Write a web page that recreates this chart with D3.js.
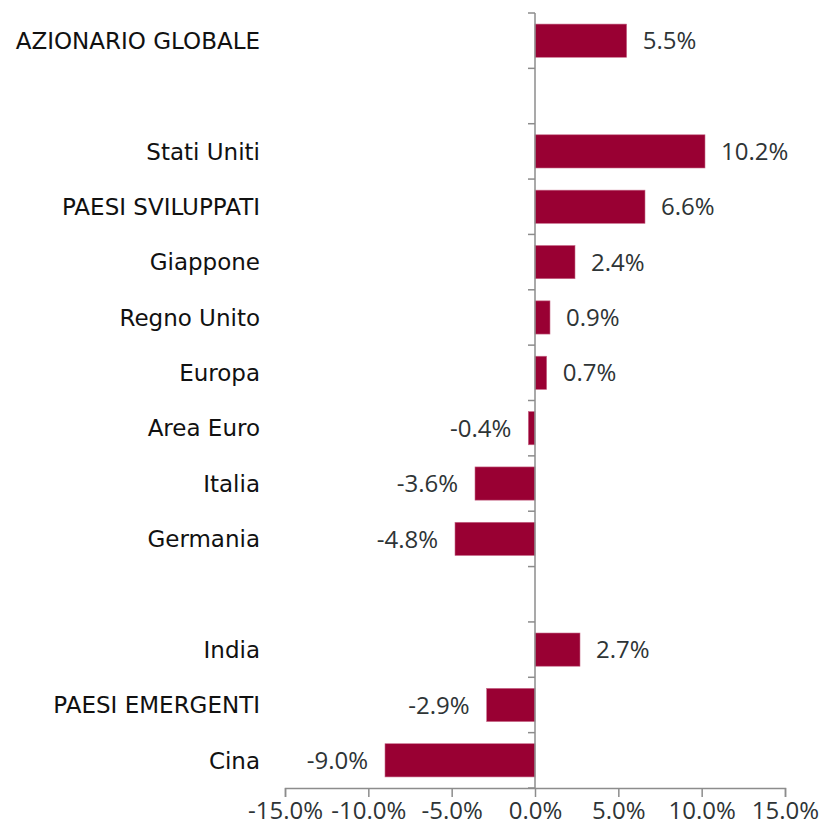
<!DOCTYPE html>
<html>
<head>
<meta charset="utf-8">
<script src="https://cdn.jsdelivr.net/npm/d3@7"></script>
<style>
  body { margin: 0; background: #fff; }
  text { font-family: "Open Sans", sans-serif; }
</style>
</head>
<body>
<div id="wrapper"></div>
<script>
// rows top to bottom, "" = empty spacer row
const categories = ["AZIONARIO GLOBALE", "", "Stati Uniti", "PAESI SVILUPPATI", "Giappone",
  "Regno Unito", "Europa", "Area Euro", "Italia", "Germania", "", "India", "PAESI EMERGENTI", "Cina"]
const values = [5.5, null, 10.2, 6.6, 2.4, 0.9, 0.7, -0.4, -3.6, -4.8, null, 2.7, -2.9, -9.0]
const xTicks = [-15, -10, -5, 0, 5, 10, 15]

// hyphen instead of unicode minus, like the original
const pct = v => d3.format(".1f")(v).replace("\u2212", "-") + "%"

function drawBarChart() {
  let dimensions = {
    width: 823,
    height: 832,
    margin: { top: 13, right: 38, bottom: 44, left: 285 }
  }
  dimensions.boundedWidth = dimensions.width - dimensions.margin.left - dimensions.margin.right
  dimensions.boundedHeight = dimensions.height - dimensions.margin.top - dimensions.margin.bottom

  const wrapper = d3.select("#wrapper")
    .append("svg")
      .attr("width", dimensions.width)
      .attr("height", dimensions.height)

  const bounds = wrapper.append("g")
    .attr("transform", `translate(${dimensions.margin.left},${dimensions.margin.top})`)

  const rows = categories.map((c, i) => ({ i, name: c, value: values[i] }))

  const xScale = d3.scaleLinear()
    .domain([-15, 15])
    .range([0, dimensions.boundedWidth])

  const yScale = d3.scaleBand()
    .domain(rows.map(d => d.i))
    .range([0, dimensions.boundedHeight])
    .paddingInner(0.4)
    .paddingOuter(0.2)

  const step = yScale.step()
  const x0 = xScale(0)
  const axisColor = "#8c8c8c"
  const textColor = "#2e3436"

  // bars
  bounds.selectAll("rect.bar")
    .data(rows.filter(d => d.value !== null))
    .join("rect")
      .attr("class", "bar")
      .attr("x", d => xScale(Math.min(0, d.value)))
      .attr("width", d => Math.abs(xScale(d.value) - x0))
      .attr("y", d => yScale(d.i))
      .attr("height", yScale.bandwidth())
      .attr("fill", "#990033")
      .attr("stroke", "#c76b8a")
      .attr("stroke-width", 0.6)

  // value labels
  bounds.selectAll("text.val")
    .data(rows.filter(d => d.value !== null))
    .join("text")
      .attr("class", "val")
      .attr("x", d => d.value >= 0 ? xScale(d.value) + 16 : xScale(d.value) - 17)
      .attr("y", d => yScale(d.i) + yScale.bandwidth() / 2)
      .attr("dy", "0.36em")
      .attr("text-anchor", d => d.value >= 0 ? "start" : "end")
      .attr("fill", textColor)
      .style("font-size", "24px")
      .text(d => pct(d.value))

  // category labels
  bounds.selectAll("text.cat")
    .data(rows)
    .join("text")
      .attr("class", "cat")
      .attr("x", -25)
      .attr("y", d => yScale(d.i) + yScale.bandwidth() / 2)
      .attr("dy", "0.36em")
      .attr("text-anchor", "end")
      .attr("fill", "#111")
      .style("font-family", "'DejaVu Sans', sans-serif")
      .style("font-size", "23px")
      .text(d => d.name)

  // vertical axis at zero with ticks at row boundaries
  const yAxis = bounds.append("g")
  yAxis.append("line")
    .attr("x1", x0).attr("x2", x0)
    .attr("y1", 0).attr("y2", dimensions.boundedHeight)
    .attr("stroke", axisColor).attr("stroke-width", 1.5)
  yAxis.selectAll("line.tick")
    .data(d3.range(categories.length + 1))
    .join("line")
      .attr("class", "tick")
      .attr("x1", x0 - 7).attr("x2", x0)
      .attr("y1", d => d * step).attr("y2", d => d * step)
      .attr("stroke", axisColor).attr("stroke-width", 1.5)

  // x axis
  const xAxisGenerator = d3.axisBottom(xScale)
    .tickValues(xTicks)
    .tickSize(9)
    .tickPadding(5)
    .tickFormat(pct)

  const xAxis = bounds.append("g")
    .attr("transform", `translate(0,${dimensions.boundedHeight})`)
    .call(xAxisGenerator)
  xAxis.select(".domain").attr("stroke", axisColor).attr("stroke-width", 1.5)
  xAxis.selectAll(".tick line").attr("stroke", axisColor).attr("stroke-width", 1.5)
  xAxis.selectAll(".tick text")
    .attr("fill", textColor)
    .style("font-size", "24px")
    .style("font-family", "'Open Sans', sans-serif")
}

drawBarChart()
</script>
</body>
</html>
